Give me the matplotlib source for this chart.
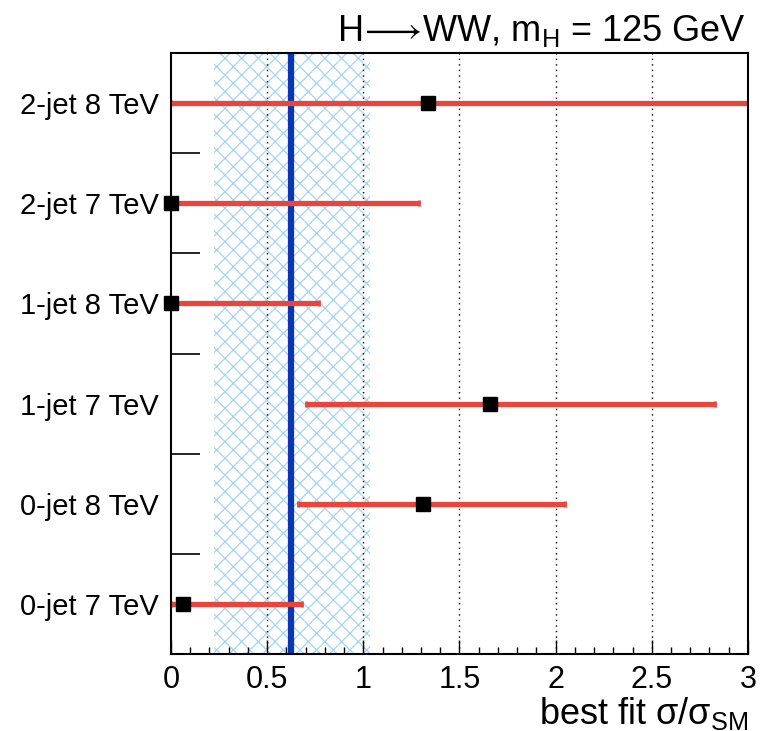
import matplotlib
matplotlib.use("Agg")
import matplotlib.pyplot as plt
from matplotlib.ticker import MultipleLocator, FixedLocator, NullFormatter

# channel data (bottom to top)
channels = ["0-jet 7 TeV", "0-jet 8 TeV", "1-jet 7 TeV", "1-jet 8 TeV", "2-jet 7 TeV", "2-jet 8 TeV"]
best_fit = [0.06, 1.31, 1.66, 0.0, 0.0, 1.335]
err_low = [0.0, 0.66, 0.70, 0.0, 0.0, 0.0]
err_high = [0.68, 2.05, 2.83, 0.77, 1.29, 3.30]

# combined result
comb_mu = 0.625
comb_low = 0.222
comb_high = 1.037

plt.rcParams["font.family"] = ["Liberation Sans", "DejaVu Sans"]
plt.rcParams["hatch.linewidth"] = 0.9
plt.rcParams["mathtext.fontset"] = "custom"
plt.rcParams["mathtext.rm"] = "Liberation Sans"
plt.rcParams["mathtext.fallback"] = "stixsans"

fig = plt.figure(figsize=(7.64, 7.31), dpi=100)
ax = fig.add_axes([0.2238, 0.1053, 0.9790 - 0.2238, 0.9275 - 0.1053])

# combined band and central value
ax.axvspan(comb_low, comb_high, facecolor="none", edgecolor="#a5d4f5",
           hatch="xx", linewidth=0, zorder=1)
ax.axvline(comb_mu, color="#0a36b4", lw=4.5, zorder=3)

# dotted grid
for gx in [0.5, 1.0, 1.5, 2.0, 2.5]:
    ax.axvline(gx, color="black", lw=1.0, ls=(0, (1, 3)), zorder=2)

ypos = [i + 0.5 for i in range(len(channels))]
xerr = [[b - l for b, l in zip(best_fit, err_low)],
        [h - b for b, h in zip(best_fit, err_high)]]
ax.errorbar(best_fit, ypos, xerr=xerr, fmt="none", ecolor="#e8453c",
            elinewidth=3.8, capsize=2, capthick=2, zorder=4, clip_on=True)
ax.plot(best_fit, ypos, "s", color="black", ms=10, zorder=5, clip_on=False)

ax.set_xlim(0, 3)
ax.set_ylim(0, len(channels))

ax.xaxis.set_minor_locator(MultipleLocator(0.1))
ax.set_xticks([0, 0.5, 1, 1.5, 2, 2.5, 3])
ax.set_xticklabels(["0", "0.5", "1", "1.5", "2", "2.5", "3"])
ax.tick_params(axis="x", which="major", direction="in", length=10, width=1,
               labelsize=22, pad=8)
ax.tick_params(axis="x", which="minor", direction="in", length=5, width=1)

ax.set_yticks(ypos)
ax.set_yticklabels(channels)
ax.yaxis.set_minor_locator(FixedLocator([1, 2, 3, 4, 5]))
ax.yaxis.set_minor_formatter(NullFormatter())
ax.tick_params(axis="y", which="major", length=0, labelsize=21, pad=9)
ax.tick_params(axis="y", which="minor", direction="in", length=21, width=1.2)

for sp in ax.spines.values():
    sp.set_linewidth(1.5)
    sp.set_zorder(6)

ax.set_xlabel("best fit σ/σ$_{\\rm SM}$", fontsize=26, loc="right", labelpad=0)

fig.text(0.976, 0.958, "H$\\!\\longrightarrow\\!$WW, m$_{\\rm H}$ = 125 GeV",
         ha="right", va="center", fontsize=26)

fig.savefig("out.png", dpi=100)
